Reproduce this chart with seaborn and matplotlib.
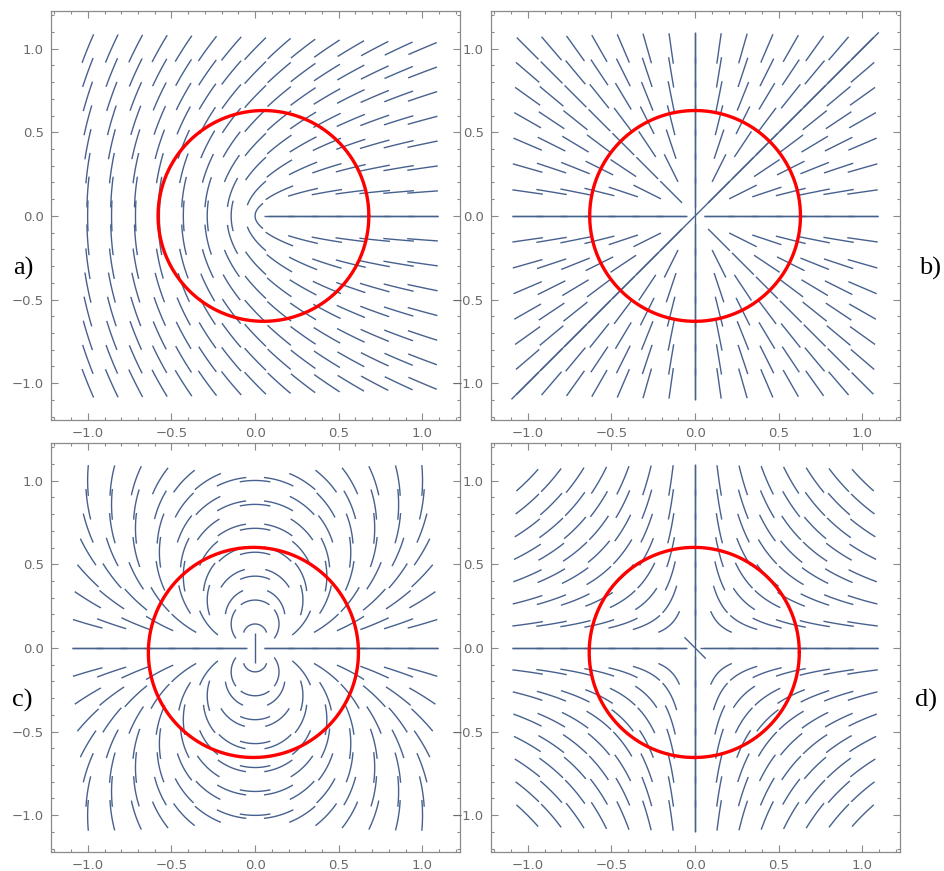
import numpy as np
import matplotlib
matplotlib.use("Agg")
import matplotlib.pyplot as plt
import seaborn as sns
import pandas as pd
from matplotlib.collections import LineCollection
from matplotlib.ticker import MultipleLocator, FuncFormatter

# ---------------- data ----------------
panel_labels = ["a)", "b)", "c)", "d)"]
# topological charge of the director field in each panel (angle = charge * polar angle)
charges = [0.5, 1.0, 2.0, -1.0]
core_x = [0.03, 0.0, 0.0, 0.0]
core_y = [0.0, 0.0, 0.0, 0.0]
# red circles
circle_cx = [0.05, 0.0, -0.01, -0.005]
circle_cy = [0.0, 0.0, -0.027, -0.027]
circle_r = [0.63, 0.63, 0.628, 0.628]
# orientation of the short segment drawn at the singular point (deg), None = nothing
center_angle = [None, None, 90.0, -45.0]
# seed grid
grid_step = 0.143
grid_k = list(range(-7, 8))
seg_len = 0.18
# long streamlines: (seed x, seed y, stop radius around core)
long_seeds = [
    [(0.5, 0.0, 0.045)],
    [(0.5, 0.0, 0.05), (-0.5, 0.0, 0.05), (0.0, 0.5013, 0.0), (0.5013, 0.5007, 0.0)],
    [(0.5, 0.0, 0.05), (-0.5, 0.0, 0.05)],
    [(0.5, 0.0, 0.03), (-0.5, 0.0, 0.05), (0.0, 0.5013, 0.0)],
]
major_ticks = [-1.0, -0.5, 0.0, 0.5, 1.0]
lims = (-1.22, 1.225)
box = 1.1

# ---------------- style ----------------
sns.set_style("ticks")
plt.rcParams["font.family"] = ["DejaVu Sans"]
line_color = "#47618e"
frame_color = "#8a8a8a"
label_color = "#6a6a6a"


def director(q, cx, cy, x, y):
    th = np.arctan2(y - cy, x - cx)
    a = q * th
    return np.cos(a), np.sin(a)


def integrate(q, cx, cy, x0, y0, length, ds=0.004, rstop=None, clip=False):
    pts_all = []
    for sgn in (1.0, -1.0):
        x, y = x0, y0
        dx, dy = director(q, cx, cy, x, y)
        dx, dy = sgn * dx, sgn * dy
        pts = [(x, y)]
        s = 0.0
        while s < length:
            ux, uy = director(q, cx, cy, x, y)
            if ux * dx + uy * dy < 0:
                ux, uy = -ux, -uy
            xm, ym = x + 0.5 * ds * ux, y + 0.5 * ds * uy
            vx, vy = director(q, cx, cy, xm, ym)
            if vx * ux + vy * uy < 0:
                vx, vy = -vx, -vy
            x, y = x + ds * vx, y + ds * vy
            dx, dy = vx, vy
            s += ds
            if clip and (abs(x) > box or abs(y) > box):
                break
            if rstop is not None and rstop > 0 and np.hypot(x - cx, y - cy) < rstop:
                break
            pts.append((x, y))
        pts_all.append(pts)
    fwd, bwd = pts_all
    return bwd[::-1] + fwd[1:]


def minus_fmt(v, pos):
    s = f"{v:.1f}"
    if s == "-0.0":
        s = "0.0"
    return s.replace("-", "\u2212")


W, H = 945, 871
fig = plt.figure(figsize=(W / 100, H / 100), dpi=100)
rects = [(51, 11, 460, 420), (491, 11, 900, 420), (51, 443, 460, 852), (491, 443, 900, 852)]
label_pos = [(23, 268), (930, 268), (22, 700), (926, 700)]

for i in range(4):
    l, t, r, b = rects[i]
    ax = fig.add_axes([l / W, 1 - b / H, (r - l) / W, (b - t) / H])
    q, cx, cy = charges[i], core_x[i], core_y[i]
    segs = []
    for kx in grid_k:
        for ky in grid_k:
            x0, y0 = kx * grid_step, ky * grid_step
            if np.hypot(x0 - cx, y0 - cy) < 0.02:
                continue
            segs.append(integrate(q, cx, cy, x0, y0, seg_len / 2))
    for (sx, sy, rs) in long_seeds[i]:
        segs.append(integrate(q, cx, cy, sx, sy, 4.0, rstop=rs, clip=True))
    if center_angle[i] is not None:
        a = np.deg2rad(center_angle[i])
        h = seg_len / 2
        segs.append([(cx - h * np.cos(a), cy - h * np.sin(a)), (cx + h * np.cos(a), cy + h * np.sin(a))])
    ax.add_collection(LineCollection(segs, colors=line_color, linewidths=1.0))

    tt = np.linspace(0, 2 * np.pi, 400)
    circ = pd.DataFrame({"x": circle_cx[i] + circle_r[i] * np.cos(tt),
                         "y": circle_cy[i] + circle_r[i] * np.sin(tt)})
    sns.lineplot(data=circ, x="x", y="y", sort=False, estimator=None, color="red",
                 linewidth=2.4, ax=ax)

    ax.set_xlim(*lims)
    ax.set_ylim(*lims)
    ax.set_xlabel("")
    ax.set_ylabel("")
    ax.set_xticks(major_ticks)
    ax.set_yticks(major_ticks)
    ax.xaxis.set_minor_locator(MultipleLocator(0.1))
    ax.yaxis.set_minor_locator(MultipleLocator(0.1))
    ax.xaxis.set_major_formatter(FuncFormatter(minus_fmt))
    ax.yaxis.set_major_formatter(FuncFormatter(minus_fmt))
    ax.tick_params(which="both", direction="in", top=True, right=True, color=frame_color,
                   width=0.8)
    ax.tick_params(which="major", length=5, labelsize=9.5, labelcolor=label_color, pad=5)
    ax.tick_params(which="minor", length=2.5)
    for sp in ax.spines.values():
        sp.set_color(frame_color)
        sp.set_linewidth(0.9)
    ax.set_facecolor("white")

    fx, fy = label_pos[i]
    fig.text(fx / W, 1 - fy / H, panel_labels[i], ha="center", va="center",
             fontsize=19, family=["Liberation Serif", "DejaVu Serif"], color="black")

fig.savefig("out.png", dpi=100, facecolor="white")
